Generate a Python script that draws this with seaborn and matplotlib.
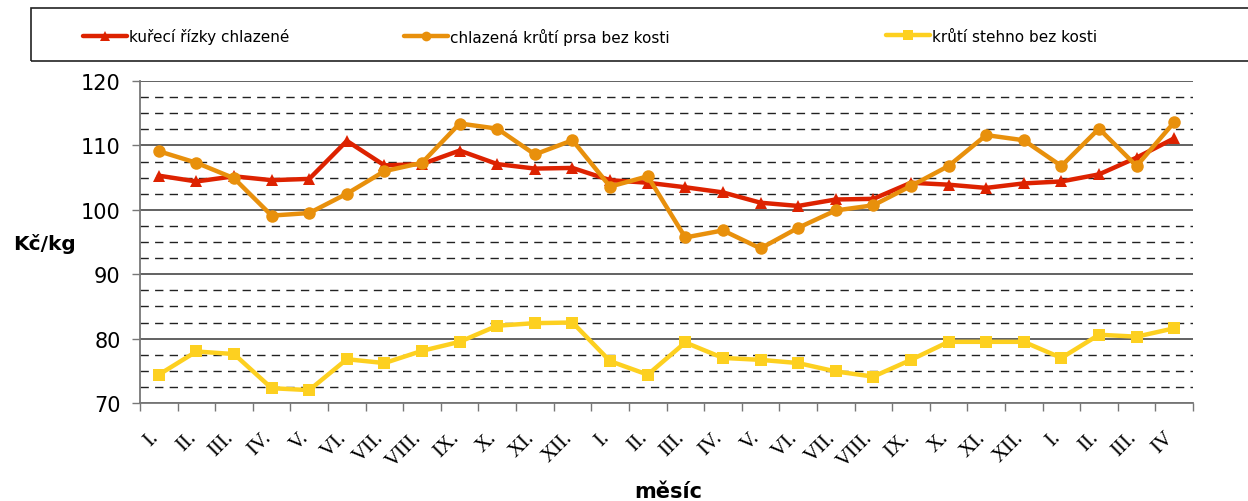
"""
Ceny drůbežího masa - měsíční vývoj (3 řady), uloženo jako out.png.
"""
import pandas as pd
import matplotlib.pyplot as plt
import seaborn as sns
from matplotlib.lines import Line2D
from matplotlib.patches import Rectangle
from matplotlib.ticker import MultipleLocator
from matplotlib.transforms import ScaledTranslation

# ── data ──────────────────────────────────────────────────────────────────────
MONTHS = ["I.", "II.", "III.", "IV.", "V.", "VI.", "VII.", "VIII.", "IX.", "X.", "XI.", "XII.",
          "I.", "II.", "III.", "IV.", "V.", "VI.", "VII.", "VIII.", "IX.", "X.", "XI.", "XII.",
          "I.", "II.", "III.", "IV"]

kureci_rizky = [105.3, 104.4, 105.2, 104.6, 104.8, 110.7, 106.9, 107.1, 109.2, 107.1, 106.4, 106.5,
                104.6, 104.2, 103.5, 102.7, 101.1, 100.6, 101.6, 101.7, 104.2, 103.9, 103.4, 104.1,
                104.4, 105.5, 108.1, 111.1]
kruti_prsa = [109.1, 107.3, 104.9, 99.1, 99.5, 102.5, 106.0, 107.3, 113.4, 112.6, 108.6, 110.8,
              103.6, 105.2, 95.7, 96.8, 94.0, 97.2, 99.9, 100.7, 103.7, 106.8, 111.6, 110.8,
              106.8, 112.6, 106.8, 113.6]
kruti_stehno = [74.4, 78.0, 77.6, 72.3, 72.0, 76.8, 76.2, 78.1, 79.5, 82.0, 82.4, 82.5,
                76.5, 74.4, 79.4, 77.0, 76.7, 76.2, 74.9, 74.1, 76.7, 79.5, 79.5, 79.5,
                77.0, 80.6, 80.3, 81.6]

SERIES = ["kuřecí řízky chlazené", "chlazená krůtí prsa bez kosti", "krůtí stehno bez kosti"]
COLORS = {SERIES[0]: "#DD2200", SERIES[1]: "#E8900C", SERIES[2]: "#FDD020"}
MARKERS = {SERIES[0]: "^", SERIES[1]: "o", SERIES[2]: "s"}

df = pd.DataFrame({
    "idx": list(range(len(MONTHS))) * 3,
    "serie": [SERIES[0]] * len(MONTHS) + [SERIES[1]] * len(MONTHS) + [SERIES[2]] * len(MONTHS),
    "cena": kureci_rizky + kruti_prsa + kruti_stehno,
})

sns.set_theme(style="white")
plt.rcParams["font.family"] = ["DejaVu Sans"]
for k in ["text.color", "axes.labelcolor", "xtick.color", "ytick.color"]:
    plt.rcParams[k] = "black"

fig = plt.figure(figsize=(12.48, 5.02), dpi=100)
ax = fig.add_axes([140 / 1248, 1 - 404 / 502, (1193 - 140) / 1248, (404 - 82) / 502])

# ── lines ─────────────────────────────────────────────────────────────────────
for s in SERIES:
    sub = df[df["serie"] == s]
    sns.lineplot(data=sub, x="idx", y="cena", ax=ax, color=COLORS[s], marker=MARKERS[s],
                 markersize=9, markeredgewidth=0, linewidth=3.2, legend=False, zorder=3)

# ── axes / grid ───────────────────────────────────────────────────────────────
ax.set_xlim(-0.5, len(MONTHS) - 0.5)
ax.set_ylim(70, 120)
ax.yaxis.set_major_locator(MultipleLocator(10))
ax.yaxis.set_minor_locator(MultipleLocator(2.5))
ax.grid(axis="y", which="major", color="#555555", linewidth=1.3, linestyle="-")
ax.grid(axis="y", which="minor", color="#222222", linewidth=1.0, linestyle=(0, (6, 4.5)))
ax.set_axisbelow(True)

ax.set_xticks(range(len(MONTHS)))
ax.set_xticklabels(MONTHS, rotation=45, ha="right", va="baseline", rotation_mode="anchor",
                   fontsize=15, family=["Liberation Serif"])
shift = ScaledTranslation(-15 / 100, 0, fig.dpi_scale_trans)
for lab in ax.get_xticklabels():
    lab.set_transform(lab.get_transform() + shift)
ax.set_xticks([i - 0.5 for i in range(len(MONTHS) + 1)], minor=True)
ax.tick_params(axis="x", which="major", length=0, pad=25)
ax.tick_params(axis="x", which="minor", length=6, width=1, color="#777777", direction="out", bottom=True)
ax.tick_params(axis="y", which="major", length=6, width=1, color="#777777", direction="out",
               labelsize=15, left=True, pad=8)
ax.tick_params(axis="y", which="minor", length=0)

for side in ["top", "right"]:
    ax.spines[side].set_visible(False)
for side in ["left", "bottom"]:
    ax.spines[side].set_color("#777777")
    ax.spines[side].set_linewidth(1.3)

ax.set_xlabel("")
ax.set_ylabel("")
fig.text(45 / 1248, 1 - 244 / 502, "Kč/kg", fontsize=14.5, fontweight="bold", ha="center", va="center")
fig.text(668 / 1248, 1 - 492 / 502, "měsíc", fontsize=15, fontweight="bold", ha="center", va="center")

# ── legend box ────────────────────────────────────────────────────────────────
fig.patches.append(Rectangle((31 / 1248, 1 - 62 / 502), 1.0, 53 / 502, transform=fig.transFigure,
                             fill=False, edgecolor="#222222", linewidth=1.2))
for s, x0 in zip(SERIES, [83, 404, 886]):
    h = Line2D([], [], color=COLORS[s], marker=MARKERS[s], markersize=7, markeredgewidth=0, linewidth=3.2)
    fig.legend(handles=[h], labels=[s], loc="center left", bbox_to_anchor=(x0 / 1248, 1 - 37 / 502),
               frameon=False, fontsize=11, handlelength=2.9, handletextpad=0.1, borderaxespad=0,
               borderpad=0)

plt.savefig("out.png", dpi=100)
plt.close()
